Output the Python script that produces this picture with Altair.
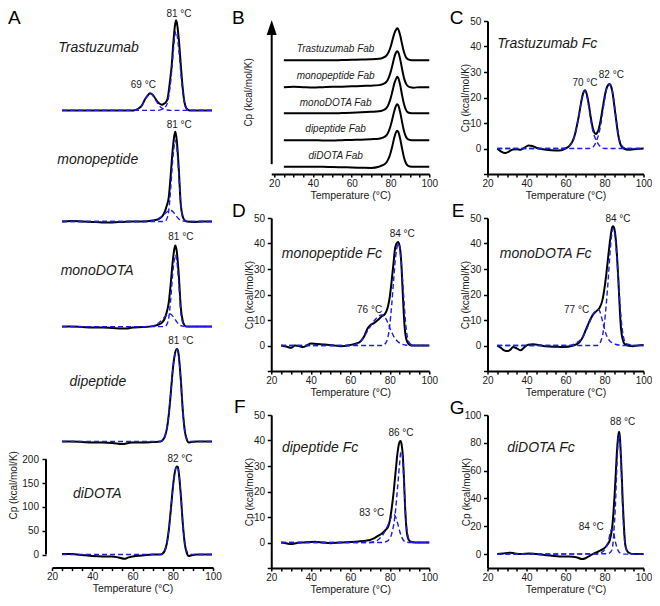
import altair as alt
import pandas as pd

FONT = "Liberation Sans"
BLUE = "#1d1de0"
BLACK = "#000000"
TXT = "#1a1a1a"

# ================= Panel A : intact antibodies (Cp, kcal/mol/K) =================
A_NAMES = ["Trastuzumab", "monopeptide", "monoDOTA", "dipeptide", "diDOTA"]

A_TRAS_T = [25, 35, 45, 55, 60, 61, 63, 64.6, 66.3, 67.5, 68.7, 70, 71, 72.5, 73.5, 74.5, 75, 76, 77, 77.5,
            78, 79, 79.5, 80, 81, 81.6, 82, 83, 84, 85, 85.5, 86, 86.8, 88, 89, 95, 99.5]
A_TRAS_CP = [0, 0, 0, 0, 0, 0.5, 4, 10, 24, 31, 36, 33, 27, 18, 14, 12, 12.5, 15, 20, 26,
             40, 75, 95, 125, 175, 189, 185, 150, 95, 45, 26, 14, 4, 0.5, 0, 0, 0]
A_TRAS_FIT1_T = [25, 60, 62, 64, 65, 66, 67, 68, 68.7, 69.5, 70.5, 71.5, 72.5, 73.5, 74.5, 75.5, 77, 79, 99.5]
A_TRAS_FIT1_CP = [0, 0, 2, 7, 13, 21, 28, 33, 35, 34, 29, 22, 15, 9, 5, 2.5, 1, 0, 0]
A_TRAS_FIT2_T = [25, 72, 74, 75, 76, 77, 78, 79, 80, 81, 81.6, 82, 83, 84, 85, 86, 87, 88, 89, 99.5]
A_TRAS_FIT2_CP = [0, 0, 1, 3, 6, 12, 30, 62, 110, 155, 166, 162, 128, 80, 38, 13, 4, 1, 0, 0]

A_MONOP_T = [25, 30, 35, 40, 45, 50, 55, 60, 65, 70, 73, 75, 76, 77, 78, 79, 80, 81, 81.3, 82,
             83, 84, 85, 86, 87, 90, 95, 99.5]
A_MONOP_CP = [0, 1, 0, -1, -2, -2, -1, 0, 0, 2, 5, 12, 20, 33, 50, 98, 152, 185, 188, 170,
              110, 35, 10, 2, 0, -1, 0, 0]
A_MONOP_FIT1_T = [25, 68, 70, 72, 74, 76, 78, 79, 80, 81, 82, 83, 84, 86, 88, 99.5]
A_MONOP_FIT1_CP = [0, 0, 1, 4, 9, 16, 22, 23, 21, 16, 10, 5, 2, 0.5, 0, 0]
A_MONOP_FIT2_T = [25, 76, 77, 78, 79, 80, 81, 81.3, 82, 83, 84, 85, 86, 87, 99.5]
A_MONOP_FIT2_CP = [0, 0, 5, 22, 70, 130, 166, 170, 156, 100, 35, 9, 2, 0, 0]

A_MONOD_T = [25, 30, 35, 40, 45, 50, 55, 57, 60, 65, 70, 73, 75, 76, 77, 78, 79, 80, 81, 81.3,
             82, 83, 84, 85, 86, 87, 90, 95, 99.5]
A_MONOD_CP = [0, 0, -1, -2, -2, -3, -4, -4, -2, -1, 1, 4, 10, 17, 30, 50, 90, 137, 167, 170,
              158, 108, 40, 11, 2, 0, 0, 0, 0]
A_MONOD_FIT1_T = [25, 68, 70, 72, 74, 76, 78, 79, 80, 81, 82, 83, 84, 86, 88, 99.5]
A_MONOD_FIT1_CP = [0, 0, 1, 5, 11, 20, 27, 26, 22, 16, 10, 5, 2, 0.5, 0, 0]
A_MONOD_FIT2_T = [25, 76, 77, 78, 79, 80, 81, 81.3, 82, 83, 84, 85, 86, 87, 99.5]
A_MONOD_FIT2_CP = [0, 0, 4, 18, 58, 112, 146, 150, 138, 92, 30, 8, 2, 0, 0]

A_DIP_T = [25, 30, 35, 40, 45, 50, 55, 58, 60, 65, 70, 74, 75, 76, 77, 78, 79, 80, 81, 82,
           82.5, 83, 84, 85, 86, 87, 88, 89, 92, 99.5]
A_DIP_CP = [0, 0, -1, -2, -2, -3, -5, -3, -2, -2, -1, 0, 3, 10, 25, 55, 100, 150, 182, 194,
            192, 180, 130, 65, 22, 4, -2, -1, 0, 0]
A_DIP_FIT_T = [25, 73, 75, 76, 77, 78, 79, 80, 81, 82, 82.5, 83, 84, 85, 86, 87, 88, 90, 99.5]
A_DIP_FIT_CP = [0, 0, 3, 10, 26, 57, 102, 150, 182, 193, 191, 178, 128, 65, 22, 5, 1, 0, 0]

A_DID_T = [25, 30, 35, 40, 45, 50, 53, 56, 58, 60, 65, 70, 74, 75, 76, 77, 78, 79, 80, 81,
           82, 82.5, 83, 84, 85, 86, 87, 88, 89, 92, 99.5]
A_DID_CP = [1, 1, -1, -3, -4, -4, -6, -9, -6, -4, -2, 0, 0, 2, 8, 22, 50, 92, 138, 172,
            185, 184, 172, 125, 65, 22, 3, -3, -2, 0, 0]
A_DID_FIT_T = [25, 73, 75, 76, 77, 78, 79, 80, 81, 82, 82.5, 83, 84, 85, 86, 87, 88, 90, 99.5]
A_DID_FIT_CP = [0, 0, 2, 8, 22, 50, 92, 138, 172, 184, 183, 172, 126, 66, 24, 7, 2, 0, 0]

A_PEAK_ROW = [0, 0, 1, 2, 3, 4]
A_PEAK_TEXT = ["81 °C", "69 °C", "81 °C", "81 °C", "81 °C", "82 °C"]
A_PEAK_T = [83.1, 65.4, 83.2, 84.0, 84.0, 83.6]
A_PEAK_CP = [203, 53.6, 203, 188, 211, 200.6]
A_NAME_T = [23.1, 22.6, 24.3, 28.7, 30.4]
A_NAME_CP = [131, 128, 117.5, 125, 128]

# ================= Panel B : Fab fragments (stacked, arbitrary units) =================
B_NAMES = ["Trastuzumab Fab", "monopeptide Fab", "monoDOTA Fab", "dipeptide Fab", "diDOTA Fab"]
B_T = [25, 30, 35, 40, 45, 50, 55, 60, 65, 70, 74, 76, 78, 79, 80, 81, 82, 83, 83.5, 84,
       85, 86, 87, 88, 89, 90, 92, 95, 100]
B_TRAS_CP = [0, 0, 0, 0, 0, 0, 0.3, 0.5, 0.8, 1, 1.5, 2.5, 5, 8, 13, 20, 27, 31, 32, 31,
             25, 16, 8, 3, 1, 0.3, 0, 0, 0]
B_MONOP_CP = [0, 0.3, 0, -0.3, 0, 0.3, 0.5, 0.8, 1.2, 1.5, 2, 3, 5.5, 9, 14.5, 22, 30, 35, 36, 35,
              28, 18, 9, 3.5, 1, 0, -0.5, 0, 0]
B_MONOD_CP = [0, 0, 0, 0, 0, 0, 0.3, 0.6, 1, 1.5, 2, 3, 5.5, 9, 14.5, 22, 30, 35, 36.5, 35.5,
              28.5, 18, 9, 3.5, 1, 0.3, 0, 0, 0]
B_DIP_CP = [0, 0, 0, 0, -0.3, -0.3, 0, 0.3, 0.5, 1, 1.5, 2.5, 5, 8.5, 14, 21.5, 29.5, 35, 36, 35,
            28, 18, 9, 3.5, 1, 0.3, 0, 0, 0]
B_DID_CP = [0, 0, 0, 0, 0, -0.3, -0.5, -0.8, -1, -1.2, 0, 1.5, 4.5, 8, 13.5, 21, 29.5, 35, 36, 35,
            28, 18, 9, 3.5, 1, 0.3, 0, 0, 0]
B_NAME_T = 51.7

# ================= Panel C : Trastuzumab Fc =================
C_T = [25, 27, 29, 31, 33, 35, 37, 39, 41, 43, 45, 50, 55, 58, 60, 62, 64, 65, 66, 67,
       68, 69, 70, 71, 72, 73, 74, 75, 75.6, 76, 77, 78, 79, 80, 81, 82, 82.5, 83, 84, 85,
       86, 87, 88, 89, 90, 92, 95, 100]
C_CP = [0, -1.2, -1.8, -1.2, -0.4, -0.3, -0.5, 0.3, 1.2, 1.0, 0.3, -0.5, -0.8, -0.7, 0, 1, 3.5, 6, 9.5, 13.5,
        18, 21.5, 22.8, 21, 17, 12, 8, 6, 5.7, 5.9, 7.5, 11, 15.5, 20, 23.5, 25, 25.3, 25, 22.5, 17,
        11, 5.5, 2, 0.5, 0, -0.5, -0.3, 0]
C_FIT1_T = [25, 58, 60, 62, 64, 65, 66, 67, 68, 69, 70, 71, 72, 73, 74, 75, 76, 77, 78, 80, 100]
C_FIT1_CP = [0, 0, 0.2, 1, 3.5, 6, 9.5, 13.5, 18, 21.5, 22.6, 20.5, 16, 11, 7, 4.5, 2.8, 1.5, 0.7, 0, 0]
C_FIT2_T = [25, 72, 74, 75, 76, 77, 78, 79, 80, 81, 82, 82.5, 83, 84, 85, 86, 87, 88, 89, 90, 92, 100]
C_FIT2_CP = [0, 0, 0.5, 1.5, 3.2, 5.5, 9, 14, 19, 23, 25, 25.2, 25, 22.5, 17.5, 11.5, 6, 2.5, 1, 0.3, 0, 0]
C_PEAK_TEXT = ["70 °C", "82 °C"]
C_PEAK_T = [70, 83.5]
C_PEAK_CP = [25.7, 28.7]

# ================= Panel D : monopeptide Fc =================
D_T = [25, 28, 30, 32, 34, 36, 38, 40, 43, 47, 52, 55, 60, 63, 65, 67, 68.5, 70, 72, 74,
       76, 77.5, 79, 80, 81, 82, 82.5, 83.3, 84.2, 85, 85.8, 86.5, 87, 87.5, 88, 89, 90, 92, 95, 100]
D_CP = [0, -0.5, -0.9, 0, -0.2, -0.6, 0, 0.8, 0.6, 0.4, 0, -0.3, 0.2, 0.8, 1.5, 3.5, 6.3, 7.9, 8.8, 10,
        11.5, 12.3, 15, 19, 25.5, 33, 37, 39.8, 40.6, 39, 33, 22, 14, 7.7, 4, 1.2, 0.3, 0, 0, 0]
D_FIT1_T = [25, 60, 63, 65, 67, 69, 71, 73, 75, 76, 77, 78, 79, 80, 81, 82, 84, 86, 88, 90, 100]
D_FIT1_CP = [0, 0, 0.5, 1.5, 3.5, 6, 8.5, 10.5, 11.8, 12, 11.6, 10.5, 9, 7, 5.2, 3.6, 1.6, 0.6, 0.2, 0, 0]
D_FIT2_T = [25, 76, 78, 79, 80, 81, 82, 83, 84, 84.5, 85, 86, 87, 88, 89, 90, 92, 100]
D_FIT2_CP = [0, 0, 1, 3, 8, 16, 26, 35, 39.5, 40, 38.5, 31, 20, 9, 3, 1, 0, 0]
D_PEAK_TEXT = ["84 °C", "76 °C"]
D_PEAK_T = [86.3, 69.8]
D_PEAK_CP = [43.6, 13.8]

# ================= Panel E : monoDOTA Fc =================
E_T = [25, 27, 28.5, 30.5, 32, 33, 35, 37, 38.5, 40.8, 43.4, 47, 50, 55, 59, 64, 67, 69, 70.5, 72,
       74, 76, 77.5, 79, 80, 81, 82, 83, 84, 84.5, 85, 85.7, 86.5, 87.2, 88, 88.5, 89.3, 90.3, 92, 94.5,
       97, 100]
E_CP = [0, -1, -1.9, -2.2, -1.5, -0.6, -1.1, -1.9, -1, 0.3, 0.5, 0.1, -0.3, -0.5, -0.6, 0, 1.2, 3.5, 6.3, 9,
        12, 13.6, 14.8, 18, 22.5, 28.5, 35.5, 42, 46.5, 46.8, 46, 42.3, 34, 24.4, 12, 6.4, 2.5, 0.6, 0, -0.3,
        0, 0.2]
E_FIT1_T = [25, 62, 65, 68, 70, 72, 74, 76, 77, 78, 79, 80, 81, 82, 84, 86, 88, 90, 100]
E_FIT1_CP = [0, 0, 0.8, 2.5, 5, 8.5, 12, 13.8, 14, 12.5, 9.5, 6.5, 4, 2.5, 1, 0.4, 0.1, 0, 0]
E_FIT2_T = [25, 76, 77, 78, 79, 80, 81, 82, 83, 84, 84.5, 85, 86, 87, 88, 89, 90, 91, 93, 95, 100]
E_FIT2_CP = [0, 0, 0.3, 1.5, 4, 9, 17, 27, 38, 45, 46, 45, 38, 27, 15.5, 7, 2.5, 1, 0.3, 0, 0]
E_PEAK_TEXT = ["84 °C", "77 °C"]
E_PEAK_T = [86.9, 65.7]
E_PEAK_CP = [49.7, 13.8]

# ================= Panel F : dipeptide Fc =================
F_T = [25, 28, 30, 33, 36, 42, 46, 50, 55, 60, 64, 68, 70, 72, 74, 76, 78, 79.2, 80, 81,
       82, 83, 84, 85, 85.5, 86, 86.6, 87.2, 87.7, 88.2, 88.7, 89.5, 90.7, 93, 96, 100]
F_CP = [0, -0.4, -0.6, -0.2, 0, 0.3, 0, -0.3, 0, 0.2, 0.4, 0.7, 1, 1.6, 2.6, 3.5, 5, 6.2, 8.5, 13.5,
        20, 28, 35.5, 39.5, 39.8, 38.5, 34.3, 25, 15.1, 8, 3.6, 1.2, 0.3, 0, 0, 0]
F_FIT1_T = [25, 70, 72, 74, 76, 78, 80, 81, 82, 83, 84, 85, 86, 87, 88, 90, 100]
F_FIT1_CP = [0, 0, 0.3, 1, 2.5, 5, 8.5, 10.3, 11, 10, 7.5, 4.5, 2.2, 0.8, 0.3, 0, 0]
F_FIT2_T = [25, 76, 78, 80, 81, 82, 83, 84, 85, 85.5, 86, 86.5, 87, 87.5, 88, 89, 90, 92, 100]
F_FIT2_CP = [0, 0, 0.3, 1.5, 3.5, 7, 13, 22, 31, 35, 35.5, 33, 27, 19, 11, 3.5, 1, 0, 0]
F_PEAK_TEXT = ["86 °C", "83 °C"]
F_PEAK_T = [85.7, 70.9]
F_PEAK_CP = [43, 11.5]

# ================= Panel G : diDOTA Fc =================
G_T = [25, 28, 31.5, 34, 37, 41.7, 45, 48.5, 53, 57, 61, 64, 66, 68.6, 70.5, 72.4, 74, 75.8, 78, 79.2,
       80.5, 81.7, 82.7, 83.4, 84, 84.6, 85.2, 85.8, 86.3, 86.9, 87.4, 87.8, 88.2, 88.8, 89.4, 90, 90.6,
       91.5, 92.8, 95, 100]
G_CP = [0, 0.5, 1, 0.5, 0, 0.5, 0, -0.5, -1.2, -1.7, -1.8, -1.9, -2.5, -3.6, -2.8, -1.2, 0, 1.2, 2.6, 3.6,
        5, 7.2, 10, 14.4, 20, 30, 43, 58, 72, 83, 88, 85.5, 77, 58, 36, 19, 7.2,
        2.5, 0.7, 0, 0]
G_FIT1_T = [25, 76, 78, 80, 81, 82, 83, 83.5, 84, 84.5, 85, 86, 87, 88, 89, 90, 100]
G_FIT1_CP = [0, 0, 0.8, 3, 5.5, 9.5, 15.5, 17.5, 18, 16.5, 13, 6.5, 2.5, 0.8, 0.3, 0, 0]
G_FIT2_T = [25, 82, 83, 84, 85, 85.5, 86, 86.5, 87, 87.5, 88, 88.5, 89, 89.5, 90, 90.5, 91, 92, 93, 95, 100]
G_FIT2_CP = [0, 0.3, 1.2, 4, 20, 32, 50, 68, 81, 86, 79, 64, 45, 28, 15, 8, 4, 1.5, 0.5, 0, 0]
G_PEAK_TEXT = ["88 °C", "84 °C"]
G_PEAK_T = [89.3, 73.2]
G_PEAK_CP = [95.3, 19.2]

# ================= layout (page pixels; the figure is squeezed slightly to fit 644x586) =============
COL_LEFT = [52, 271.25, 487.5]
COL_W = [161, 158, 156]
COL_SP = 58.25
ROW_TOP = [20.5, 217.5, 414.5]
ROW_H = [153, 153, 153]
ROW_SP = 44


def fy(y):  # reference-picture y -> page y
    return 20.5 + 0.9826 * (y - 21)


def gx(x):  # reference-picture x -> page x
    return 52 + 0.9896 * (x - 53)


A_UNIT = 0.485 * 0.9826                         # px per kcal/mol/K in panel A
A_BASE_PX = [fy(v) for v in [112, 225, 332, 449, 564]]
A_CELL = [0, 0, 1, 1, 2]
A_ZERO_PX = A_BASE_PX[4]
A_XAXIS_OFFSET = fy(577.3) - A_ZERO_PX
B_BOTTOM = ROW_TOP[0] + ROW_H[0]
B_BASE = [B_BOTTOM - fy(v) for v in [61, 88.3, 115, 142.3, 169.3]]
B_NAME_Y = [B_BOTTOM - fy(v) for v in [49.3, 76.7, 104, 131, 158.3]]

DUMMY = pd.DataFrame({"k": [0]})


def frame(t, cp, **extra):
    if len(t) != len(cp):
        raise ValueError(f"length mismatch {len(t)} vs {len(cp)} {extra}")
    d = pd.DataFrame({"T": t, "Cp": cp})
    for k, v in extra.items():
        d[k] = v
    return d


def x_axis(offset=0):
    return alt.Axis(values=list(range(20, 101, 5)), tickCount=100, format="d",
                    labelExpr="datum.value % 20 === 0 ? datum.label : ''",
                    title="Temperature (°C)", tickSize=3, labelPadding=1, titlePadding=2,
                    domainWidth=2, tickWidth=1.5, domainColor=BLACK, tickColor=BLACK,
                    labelFontSize=10, titleFontSize=10.5, labelColor=TXT, titleColor=TXT,
                    titleFontWeight="normal", labelOverlap=False, labelFlush=False,
                    grid=False, offset=offset)


def y_axis(values, offset=0, domain=True, label_pad=2.6, title_pad=-1):
    return alt.Axis(values=values, tickCount=100, format="d",
                    labelExpr="datum.value < 0 ? '' : datum.label",
                    title="Cp (kcal/mol/K)", tickSize=4, labelPadding=label_pad, titlePadding=title_pad,
                    domain=domain, domainWidth=2, tickWidth=1.5, domainColor=BLACK, tickColor=BLACK,
                    labelFontSize=10, titleFontSize=10, labelColor=TXT, titleColor=TXT,
                    titleFontWeight="normal", labelOverlap=False, grid=False, offset=offset)


def letter(ch, col, row, px, py):
    return alt.Chart(DUMMY).mark_text(text=ch, fontSize=19, align="left", baseline="top",
                                      color=BLACK).encode(x=alt.value(px - COL_LEFT[col]),
                                                          y=alt.value(py - ROW_TOP[row]))


def black_line(df, x, y, detail=None):
    enc = dict(x=x, y=y)
    if detail:
        enc["detail"] = detail
    return alt.Chart(df).mark_line(color=BLACK, strokeWidth=2, interpolate="monotone",
                                   strokeJoin="round").encode(**enc)


def blue_line(df, yfield="Cp"):
    return alt.Chart(df).mark_line(color=BLUE, strokeWidth=1.4, strokeDash=[5, 3],
                                   interpolate="monotone").encode(
        x="T:Q", y=f"{yfield}:Q", detail="comp:N")


def fc_panel(T, CP, fits, ydom, yvals, ptext, pT, pCP, name, nT, nCP, let, col, row, lpx, lpy, tpad=-1):
    xs = alt.Scale(domain=[20, 100], nice=False, zero=False)
    ys = alt.Scale(domain=ydom, nice=False, zero=False)
    total = frame(T, CP)
    fit = pd.concat([frame(t, c, comp=i) for i, (t, c) in enumerate(fits)])
    l1 = black_line(total, alt.X("T:Q", scale=xs, axis=x_axis()),
                    alt.Y("Cp:Q", scale=ys, axis=y_axis(yvals, title_pad=tpad)))
    l2 = blue_line(fit)
    pk = alt.Chart(pd.DataFrame({"T": pT, "Cp": pCP, "label": ptext})).mark_text(
        fontSize=10, color=TXT).encode(x="T:Q", y="Cp:Q", text="label:N")
    nm = alt.Chart(pd.DataFrame({"T": [nT], "Cp": [nCP], "label": [name]})).mark_text(
        fontSize=14, fontStyle="italic", align="left", color=TXT).encode(
        x="T:Q", y="Cp:Q", text="label:N")
    return alt.layer(l1, l2, pk, nm, letter(let, col, row, lpx, lpy)).properties(
        width=COL_W[col], height=ROW_H[row])


# ---------------- Panel A : split over the three grid rows ----------------
a_rows = [
    (A_TRAS_T, A_TRAS_CP, [(A_TRAS_FIT1_T, A_TRAS_FIT1_CP), (A_TRAS_FIT2_T, A_TRAS_FIT2_CP)]),
    (A_MONOP_T, A_MONOP_CP, [(A_MONOP_FIT1_T, A_MONOP_FIT1_CP), (A_MONOP_FIT2_T, A_MONOP_FIT2_CP)]),
    (A_MONOD_T, A_MONOD_CP, [(A_MONOD_FIT1_T, A_MONOD_FIT1_CP), (A_MONOD_FIT2_T, A_MONOD_FIT2_CP)]),
    (A_DIP_T, A_DIP_CP, [(A_DIP_FIT_T, A_DIP_FIT_CP)]),
    (A_DID_T, A_DID_CP, [(A_DID_FIT_T, A_DID_FIT_CP)]),
]
a_cell_h = [ROW_H[0], ROW_H[1], A_ZERO_PX - ROW_TOP[2]]
a_cell_bottom = [ROW_TOP[r] + a_cell_h[r] for r in range(3)]
a_off = [(a_cell_bottom[A_CELL[i]] - A_BASE_PX[i]) / A_UNIT for i in range(5)]
xsA = alt.Scale(domain=[20, 100], nice=False, zero=False)

a_pk = pd.DataFrame({"T": A_PEAK_T, "Cp": A_PEAK_CP, "label": A_PEAK_TEXT, "row": A_PEAK_ROW})
a_pk["Y"] = [c + a_off[r] for c, r in zip(a_pk.Cp, a_pk.row)]
a_pk["cell"] = [A_CELL[r] for r in a_pk.row]
a_nm = pd.DataFrame({"T": A_NAME_T, "label": A_NAMES, "row": range(5),
                     "Y": [c + a_off[i] for i, c in enumerate(A_NAME_CP)],
                     "cell": A_CELL})

a_cells = []
for cell in range(3):
    tot, fits = [], []
    for i, (t, c, fl) in enumerate(a_rows):
        if A_CELL[i] != cell:
            continue
        d = frame(t, c, row=i)
        d["Y"] = d["Cp"] + a_off[i]
        tot.append(d)
        for j, (ft, fc) in enumerate(fl):
            e = frame(ft, fc, comp=f"{i}-{j}")
            e["Y"] = e["Cp"] + a_off[i]
            fits.append(e)
    ys = alt.Scale(domain=[0, a_cell_h[cell] / A_UNIT], nice=False, zero=False)
    if cell == 2:
        xenc = alt.X("T:Q", scale=xsA, axis=x_axis(offset=A_XAXIS_OFFSET))
        yenc = alt.Y("Y:Q", scale=ys, axis=y_axis([0, 50, 100, 150, 200], offset=6, domain=False,
                                                  label_pad=3.5, title_pad=3))
    else:
        xenc = alt.X("T:Q", scale=xsA, axis=None)
        yenc = alt.Y("Y:Q", scale=ys, axis=None)
    layers = [
        black_line(pd.concat(tot), xenc, yenc, "row:N"),
        blue_line(pd.concat(fits), "Y"),
        alt.Chart(a_pk[a_pk.cell == cell]).mark_text(fontSize=10, color=TXT).encode(
            x="T:Q", y="Y:Q", text="label:N"),
        alt.Chart(a_nm[a_nm.cell == cell]).mark_text(fontSize=14, fontStyle="italic", align="left",
                                                      color=TXT).encode(x="T:Q", y="Y:Q", text="label:N"),
    ]
    if cell == 0:
        layers.append(letter("A", 0, 0, 8, 8))
    if cell == 2:
        layers.append(alt.Chart(DUMMY).mark_rule(color=BLACK, strokeWidth=2).encode(
            x=alt.value(-6), y=alt.datum(0), y2=alt.datum(200)))
    a_cells.append(alt.layer(*layers).properties(width=COL_W[0], height=a_cell_h[cell]))

# ---------------- Panel B ----------------
b_curves = [B_TRAS_CP, B_MONOP_CP, B_MONOD_CP, B_DIP_CP, B_DID_CP]
b_df = pd.concat([frame(B_T, c, row=i) for i, c in enumerate(b_curves)])
b_df["Y"] = b_df["Cp"] + b_df["row"].map(lambda r: B_BASE[r])
xsB = alt.Scale(domain=[18.5, 100], nice=False, zero=False)
ysB = alt.Scale(domain=[0, ROW_H[0]], nice=False, zero=False)
arrow_x = gx(275) - COL_LEFT[1]
B = alt.layer(
    black_line(b_df, alt.X("T:Q", scale=xsB, axis=x_axis()), alt.Y("Y:Q", scale=ysB, axis=None), "row:N"),
    alt.Chart(pd.DataFrame({"T": [B_NAME_T] * 5, "Y": B_NAME_Y, "label": B_NAMES})).mark_text(
        fontSize=10, fontStyle="italic", color=TXT).encode(x="T:Q", y="Y:Q", text="label:N"),
    alt.Chart(DUMMY).mark_rule(color=BLACK, strokeWidth=2).encode(
        x=alt.value(arrow_x), y=alt.value(fy(35) - ROW_TOP[0]), y2=alt.value(fy(166.7) - ROW_TOP[0])),
    alt.Chart(DUMMY).mark_point(shape="M0,-1L0.667,1L-0.667,1Z", filled=True, size=225,
                                color=BLACK, opacity=1).encode(
        x=alt.value(arrow_x), y=alt.value(fy(27.5) - ROW_TOP[0])),
    alt.Chart(DUMMY).mark_text(text="Cp (kcal/mol/K)", angle=270, fontSize=10, color=TXT).encode(
        x=alt.value(gx(252) - COL_LEFT[1]), y=alt.value(fy(93.7) - ROW_TOP[0])),
    letter("B", 1, 0, gx(235), 8),
).properties(width=COL_W[1], height=ROW_H[0])

Y50 = [-10, 0, 10, 20, 30, 40, 50]
C = fc_panel(C_T, C_CP, [(C_FIT1_T, C_FIT1_CP), (C_FIT2_T, C_FIT2_CP)], [-10, 50], Y50,
             C_PEAK_TEXT, C_PEAK_T, C_PEAK_CP, "Trastuzumab Fc", 25, 41, "C", 2, 0, gx(455), 8)
D = fc_panel(D_T, D_CP, [(D_FIT1_T, D_FIT1_CP), (D_FIT2_T, D_FIT2_CP)], [-10, 50], Y50,
             D_PEAK_TEXT, D_PEAK_T, D_PEAK_CP, "monopeptide Fc", 25.3, 35.7, "D", 1, 1, gx(235), fy(205))
E = fc_panel(E_T, E_CP, [(E_FIT1_T, E_FIT1_CP), (E_FIT2_T, E_FIT2_CP)], [-10, 50], Y50,
             E_PEAK_TEXT, E_PEAK_T, E_PEAK_CP, "monoDOTA Fc", 26.3, 35.7, "E", 2, 1, gx(457), fy(205))
F = fc_panel(F_T, F_CP, [(F_FIT1_T, F_FIT1_CP), (F_FIT2_T, F_FIT2_CP)], [-10, 50], Y50,
             F_PEAK_TEXT, F_PEAK_T, F_PEAK_CP, "dipeptide Fc", 25.4, 37.2, "F", 1, 2, gx(237), fy(405))
G = fc_panel(G_T, G_CP, [(G_FIT1_T, G_FIT1_CP), (G_FIT2_T, G_FIT2_CP)], [-10, 100], [0, 20, 40, 60, 80, 100],
             G_PEAK_TEXT, G_PEAK_T, G_PEAK_CP, "diDOTA Fc", 30.1, 76, "G", 2, 2, gx(455), fy(406), tpad=-7)

chart = alt.concat(a_cells[0], B, C, a_cells[1], D, E, a_cells[2], F, G,
                   columns=3, spacing={"row": ROW_SP, "column": COL_SP},
                   bounds="flush", align="each").properties(padding=0).configure(
    font=FONT).configure_view(stroke=None).configure_axis(labelOverlap=False)

chart.save("out.html", embed_options={"renderer": "svg", "actions": False})
